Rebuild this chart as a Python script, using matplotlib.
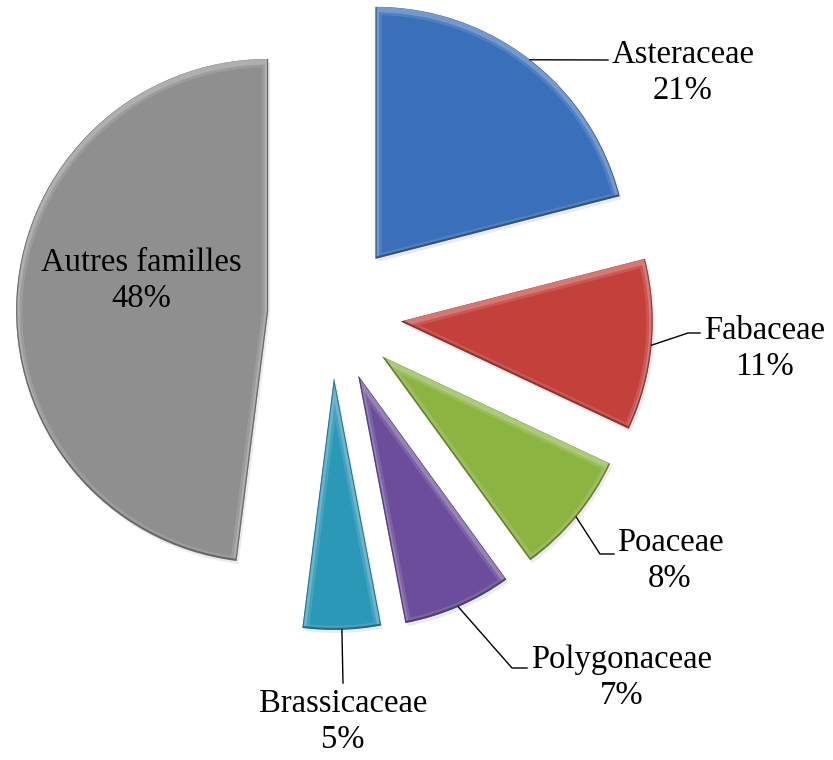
import numpy as np
import matplotlib
matplotlib.use('Agg')
import matplotlib.pyplot as plt
from matplotlib.patches import Wedge
from matplotlib.transforms import ScaledTranslation
from matplotlib.colors import to_rgb

families = ['Asteraceae', 'Fabaceae', 'Poaceae', 'Polygonaceae', 'Brassicaceae', 'Autres familles']
shares = [21, 11, 8, 7, 5, 48]

colors = ['#3a6fba', '#c4403b', '#8cb440', '#6c4d9b', '#2b98b8', '#8f8f8f']

# canvas is laid out in pixels, y measured from the top
W, H = 833, 760
CENTER = (332, 315)
RADIUS = 252
explode = [71, 69, 65, 66, 63, 64]

# text block centres and where each leader line meets its text
label_pos = [(683, 73), (765, 349), (670, 561), (622, 678), (343, 722), (141, 281)]
leader_end = [(608, 60), (700, 333), (614, 554), (527, 668), (343, 683), None]
leader_tail = [0, 12, 14, 15, 0, 0]


def mix(c, other, t):
    c = np.array(to_rgb(c))
    return tuple(c + (np.array(other) - c) * t)


def shifted(dx, dy):
    # offset in pixels (dpi 100)
    return ax.transData + ScaledTranslation(dx / 100, -dy / 100, fig.dpi_scale_trans)


fig = plt.figure(figsize=(W / 100, H / 100), dpi=100)
ax = fig.add_axes([0, 0, 1, 1])

wedges, _ = ax.pie(shares, colors=colors, explode=explode, radius=RADIUS,
                   center=(CENTER[0], H - CENTER[1]), startangle=90,
                   counterclock=False, frame=True,
                   wedgeprops=dict(linewidth=0, zorder=2))

for w, c in zip(wedges, colors):
    args = (w.center, w.r, w.theta1, w.theta2)
    # faint drop shadow
    ax.add_patch(Wedge(*args, facecolor=(0, 0, 0), alpha=0.08, linewidth=0,
                       transform=shifted(2, 3), zorder=1))
    # soft light bevel along the upper edges
    for lw, a in [(9, 0.12), (5, 0.2)]:
        rim = Wedge(*args, facecolor='none', edgecolor=(1, 1, 1), alpha=a,
                    linewidth=lw, transform=shifted(0, 2), zorder=3)
        ax.add_patch(rim)
        rim.set_clip_path(w)
    # thin dark rim along the lower edges
    dark = Wedge(*args, facecolor='none', edgecolor=mix(c, (0, 0, 0), 0.4),
                 linewidth=1.6, alpha=0.8, transform=shifted(0, -1), zorder=3.5)
    ax.add_patch(dark)
    dark.set_clip_path(w)

# leader lines start on the arc at the middle of each slice
for w, end, tail in zip(wedges, leader_end, leader_tail):
    if end is None:
        continue
    mid = np.deg2rad((w.theta1 + w.theta2) / 2)
    sx = w.center[0] + w.r * np.cos(mid)
    sy = w.center[1] + w.r * np.sin(mid)
    ex, ey = end[0], H - end[1]
    ax.plot([sx, ex - tail, ex], [sy, ey, ey], color='black', linewidth=1, zorder=5)

for name, share, (x, y) in zip(families, shares, label_pos):
    ax.text(x, H - y, f'{name}\n{share}%', ha='center', va='center',
            family='Liberation Serif', fontsize=23.5, linespacing=1.25, zorder=6)

ax.set_xlim(0, W)
ax.set_ylim(0, H)
ax.set_aspect('auto')
ax.axis('off')
fig.savefig('out.png', dpi=100, facecolor='white')
